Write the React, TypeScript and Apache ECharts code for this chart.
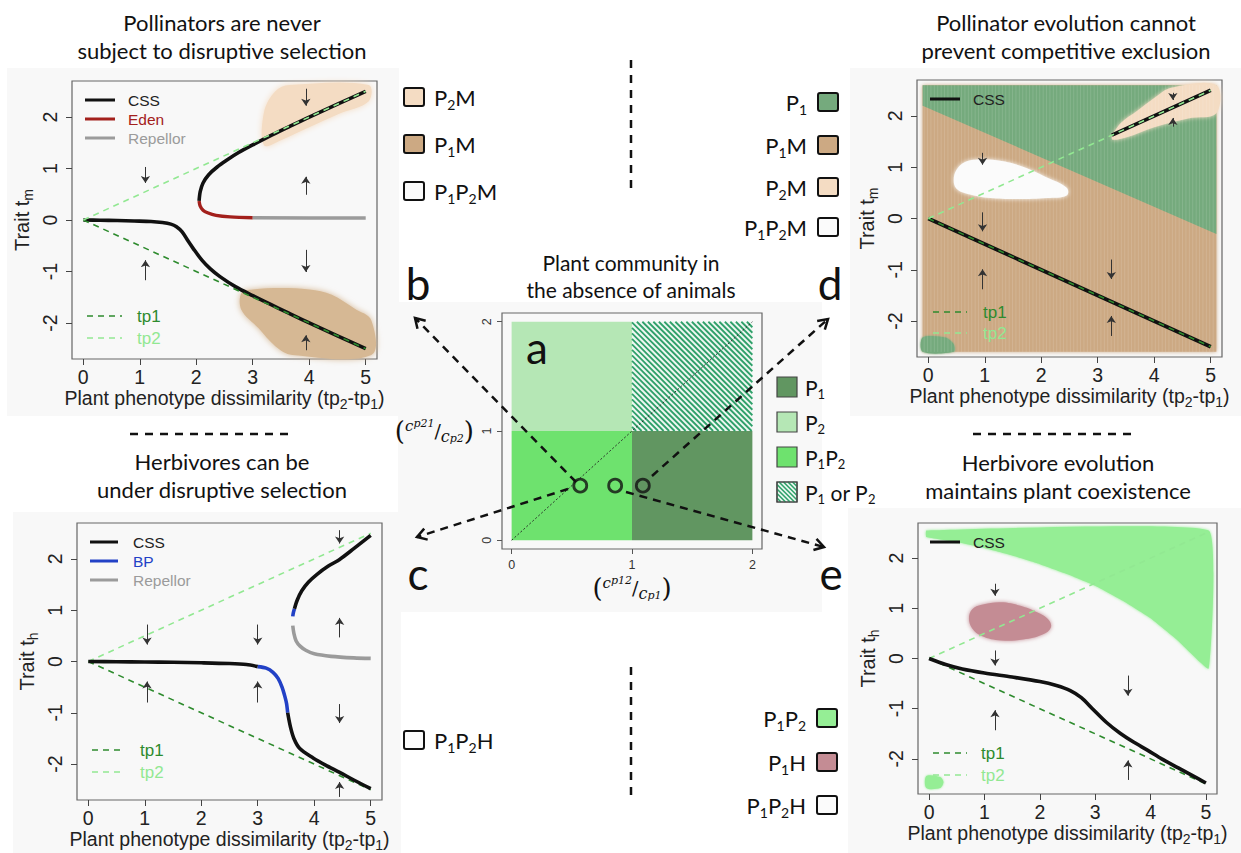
import React, { useEffect, useRef } from "react";
import * as echarts from "echarts";

// ---------------- ticks ----------------
const traitXTicks = [0, 1, 2, 3, 4, 5];
const traitYTicks = [-2, -1, 0, 1, 2];
const commTicks = [0, 1, 2];

// ---------------- reference lines ----------------
const tp1Line = [[0, 0], [5, -2.5]];
const tp2Line = [[0, 0], [5, 2.5]];

// ---------------- panel b (pollinators) ----------------
const bCssLower = [[0, 0], [0.3, -0.005], [0.6, -0.01], [0.9, -0.02], [1.2, -0.03], [1.4, -0.05], [1.55, -0.08], [1.65, -0.13], [1.75, -0.23], [1.85, -0.4], [1.95, -0.56], [2.1, -0.78], [2.25, -0.95], [2.42, -1.1], [2.7, -1.3], [3.0, -1.47], [3.3, -1.63], [3.6, -1.79], [4, -2], [4.5, -2.25], [5, -2.5]];
const bCssUpper = [[2.05, 0.37], [2.07, 0.55], [2.12, 0.72], [2.22, 0.88], [2.37, 1.03], [2.55, 1.17], [2.75, 1.31], [3.0, 1.46], [3.3, 1.63], [3.6, 1.79], [4, 2], [4.5, 2.25], [5, 2.5]];
const bEden = [[2.05, 0.37], [2.07, 0.27], [2.12, 0.19], [2.2, 0.14], [2.35, 0.09], [2.6, 0.06], [3.0, 0.045]];
const bRepellor = [[3.0, 0.045], [4, 0.04], [5, 0.04]];
const bP2MRegion = [[3.2, 1.45], [3.2, 2.1], [3.4, 2.5], [3.65, 2.62], [5.05, 2.62], [5.05, 2.3], [4.5, 2.05], [4.0, 1.8], [3.5, 1.55]];
const bP1MRegion = [[2.8, -1.42], [3.0, -1.35], [3.5, -1.32], [4.0, -1.35], [4.4, -1.45], [4.8, -1.72], [5.1, -1.95], [5.1, -2.62], [3.7, -2.62], [3.4, -2.45], [3.1, -2.1], [2.8, -1.75]];
const bArrows = [[1.1, 1.03, 0.72], [1.1, -1.17, -0.78], [3.94, 2.55, 2.22], [3.94, 0.49, 0.84], [3.94, -0.58, -1.01], [3.94, -2.53, -2.24]];

// ---------------- panel c (herbivores) ----------------
const cCssLowerA = [[0, 0], [0.5, -0.005], [1, -0.01], [1.5, -0.015], [2, -0.025], [2.5, -0.04], [2.8, -0.06], [3.0, -0.1]];
const cBpLower = [[3.0, -0.1], [3.15, -0.13], [3.27, -0.21], [3.36, -0.33], [3.43, -0.5], [3.48, -0.68], [3.51, -0.82], [3.53, -1.0]];
const cCssLowerB = [[3.53, -1.0], [3.58, -1.28], [3.64, -1.5], [3.74, -1.69], [3.98, -1.88], [4.2, -2.02], [4.45, -2.16], [4.7, -2.31], [5, -2.48]];
const cBpUpper = [[3.62, 0.88], [3.63, 0.95], [3.65, 1.03]];
const cCssUpper = [[3.65, 1.03], [3.7, 1.2], [3.78, 1.38], [3.9, 1.55], [4.05, 1.7], [4.25, 1.86], [4.45, 1.99], [4.7, 2.2], [5, 2.46]];
const cRepellor = [[3.62, 0.7], [3.64, 0.55], [3.68, 0.4], [3.75, 0.3], [3.85, 0.22], [4.0, 0.15], [4.3, 0.1], [4.7, 0.07], [5, 0.06]];
const cArrows = [[1.04, 0.72, 0.33], [1.04, -0.8, -0.39], [3.0, 0.72, 0.33], [3.0, -0.8, -0.39], [4.45, 2.56, 2.3], [4.45, 0.47, 0.85], [4.45, -0.83, -1.2], [4.45, -2.64, -2.35]];

// ---------------- panel d (pollinator evolution) ----------------
const dP1MArea = [[-0.1, -2.6], [5.1, -2.6], [5.1, 2.6], [-0.1, 2.6]];
const dP1Upper = [[-0.1, 2.6], [5.1, 2.6], [5.1, -0.3], [-0.1, 2.2]];
const dP1Corner = [[-0.1, -2.32], [0.3, -2.32], [0.45, -2.45], [0.45, -2.6], [-0.1, -2.6]];
const dP2MRegion = [[3.25, 1.55], [3.4, 1.85], [3.7, 2.1], [4.0, 2.35], [4.3, 2.55], [5.1, 2.6], [5.1, 2.05], [4.6, 1.95], [4.0, 1.78], [3.5, 1.58]];
const dP1P2MRegion = [[0.45, 0.75], [0.5, 0.95], [0.65, 1.1], [0.9, 1.15], [1.3, 1.12], [1.7, 1.0], [2.1, 0.8], [2.45, 0.6], [2.45, 0.45], [2.1, 0.4], [1.6, 0.38], [1.1, 0.4], [0.7, 0.48], [0.5, 0.58]];
const dCssLower = [[0, 0], [5, -2.5]];
const dCssUpper = [[3.25, 1.625], [5, 2.5]];
const dArrows = [[0.96, 1.28, 1.05], [0.96, 0.12, -0.25], [0.96, -1.38, -0.99], [3.24, -0.8, -1.18], [3.24, -2.29, -1.9], [4.33, 2.45, 2.31], [4.33, 1.79, 1.96]];

// ---------------- panel e (herbivore evolution) ----------------
const eP1P2Region = [[-0.05, 2.55], [5.05, 2.55], [5.05, -0.2], [4.5, 0.35], [4, 0.8], [3.5, 1.15], [3, 1.45], [2.5, 1.68], [2, 1.88], [1.5, 2.05], [1, 2.2], [0.5, 2.32], [-0.05, 2.42]];
const eP1P2Corner = [[-0.05, -2.34], [0.2, -2.36], [0.26, -2.46], [0.2, -2.58], [-0.05, -2.58]];
const eP1HRegion = [[0.72, 0.8], [0.78, 0.98], [0.95, 1.07], [1.3, 1.12], [1.65, 1.05], [1.95, 0.92], [2.15, 0.78], [2.2, 0.62], [2.05, 0.48], [1.7, 0.38], [1.3, 0.36], [0.95, 0.45], [0.78, 0.6]];
const eCss = [[0, 0], [0.3, -0.12], [0.6, -0.21], [1.0, -0.29], [1.5, -0.37], [2.0, -0.46], [2.3, -0.54], [2.55, -0.64], [2.75, -0.78], [2.95, -1.0], [3.2, -1.27], [3.45, -1.49], [3.7, -1.67], [3.95, -1.83], [4.2, -2.0], [4.5, -2.18], [4.75, -2.33], [5, -2.48]];
const eArrows = [[1.19, 1.49, 1.25], [1.19, 0.16, -0.14], [1.19, -1.43, -1.03], [3.59, -0.34, -0.74], [3.59, -2.42, -2.03]];

// ---------------- panel a (plant community) ----------------
const aQuadrants = [[0, 0, 1, 1], [0, 1, 1, 2], [1, 0, 2, 1]]; // P1P2, P2, P1
const aHatched = [[1, 1, 2, 2]]; // P1 or P2
const aDiagonal = [[0, 0], [2, 2]];
const aPoints = [[0.57, 0.5], [0.86, 0.5], [1.09, 0.5]];

// ---------------- styles ----------------
const FT = "Lato, 'Open Sans', sans-serif";
const FR = "'Liberation Sans', Arial, sans-serif";
const FS = "'DejaVu Serif', 'Liberation Serif', serif";
const COL = {
  css: "#111111", eden: "#a3201c", rep: "#9b9b9b", bp: "#2241c6",
  tp1: "#2e8b2e", tp2: "#92e892",
  p2m: "#f4dcc3", p1mBlob: "#d6b894", p1m: "#cca983", p1: "#75aa7d", white: "#fbfbfb",
  p1p2e: "#95ee95", p1h: "#c48c94",
  aP1P2: "#6ee26e", aP2: "#b5e7b5", aP1: "#619661", hatch: "#2fa06a", hatchBg: "#eef7f1",
};
const aQuadColors = [COL.aP1P2, COL.aP2, COL.aP1];

const grids = [
  { left: 72, top: 81, width: 305, height: 278 },   // b
  { left: 77, top: 523, width: 305, height: 278 },  // c
  { left: 917, top: 80, width: 305, height: 277 },  // d
  { left: 918, top: 523, width: 299, height: 271 }, // e
  { left: 502, top: 313, width: 260, height: 236 }, // a
];

// subscript token: bottom-aligned with a small box height so it drops below the baseline
const subRich = (size: number, fam: string, color = "#222", h = 6) => ({
  s: { fontSize: size, fontFamily: fam, color, verticalAlign: "bottom", height: h },
});

function hatchSegments(x0: number, y0: number, x1: number, y1: number, step: number) {
  const segs: number[][] = [];
  for (let c = y0 - x1; c <= y1 - x0; c += step) {
    const xa = Math.max(x0, y0 - c);
    const xb = Math.min(x1, y1 - c);
    if (xb > xa) segs.push([xa, xa + c, xb, xb + c]);
  }
  return segs;
}

function line(name: string, gi: number, data: number[][], color: string, width: number, z: number, dash: any = "solid", smooth: number | boolean = 0.3) {
  return {
    type: "line", name, xAxisIndex: gi, yAxisIndex: gi, data, symbol: "none", showSymbol: false, smooth, z, silent: true,
    lineStyle: { color, width, type: dash, cap: "butt", join: "round" },
  };
}

function poly(gi: number, pts: number[][], fill: string, z: number, smooth = 0, blur = 0) {
  return {
    type: "custom", xAxisIndex: gi, yAxisIndex: gi, data: pts, z, silent: true,
    renderItem: (params: any, api: any) => {
      if (params.dataIndex !== 0) return null;
      return {
        type: "polygon",
        shape: { points: pts.map((p) => api.coord(p)), smooth },
        style: { fill, shadowBlur: blur, shadowColor: blur ? fill : "transparent" },
      };
    },
  };
}

// faint vertical striping like the raster dots of the original model output
function stripes(gi: number, area: number[][], z: number) {
  return {
    type: "custom", xAxisIndex: gi, yAxisIndex: gi, data: area, z, silent: true,
    renderItem: (params: any, api: any) => {
      if (params.dataIndex !== 0) return null;
      const tl = api.coord([area[0][0], area[2][1]]);
      const br = api.coord([area[1][0], area[0][1]]);
      const children: any[] = [];
      for (let x = tl[0] + 1.5; x < br[0]; x += 3.4) {
        children.push({ type: "line", shape: { x1: x, y1: tl[1], x2: x, y2: br[1] }, style: { stroke: "#ffffff", opacity: 0.13, lineWidth: 1 } });
      }
      return { type: "group", children };
    },
  };
}

function arrows(gi: number, arr: number[][]) {
  return {
    type: "lines", coordinateSystem: "cartesian2d", xAxisIndex: gi, yAxisIndex: gi, z: 6, silent: true,
    data: arr.map(([x, y0, y1]) => ({ coords: [[x, y0], [x, y1]] })),
    symbol: ["none", "arrow"], symbolSize: 7,
    lineStyle: { color: "#333", width: 1, opacity: 1 },
  };
}

const DASH = [6, 5];

function traitAxes(gi: number, letter: string) {
  const x = {
    type: "value", gridIndex: gi, min: -0.2, max: 5.2,
    axisLine: { show: false, onZero: false }, splitLine: { show: false },
    axisTick: { show: true, length: 6, customValues: traitXTicks, lineStyle: { color: "#444" } },
    axisLabel: { customValues: traitXTicks, fontSize: 19.5, color: "#222", margin: 8, fontFamily: FR },
    name: "Plant phenotype dissimilarity (tp{s|2}-tp{s|1})", nameLocation: "middle", nameGap: 29,
    nameTextStyle: { fontSize: 19.5, fontFamily: FR, color: "#222", lineHeight: 20, rich: subRich(14, FR, "#222", 8) },
  };
  const y = {
    type: "value", gridIndex: gi, min: -2.7, max: 2.7,
    axisLine: { show: false, onZero: false }, splitLine: { show: false },
    axisTick: { show: true, length: 6, customValues: traitYTicks, lineStyle: { color: "#444" } },
    axisLabel: { customValues: traitYTicks, fontSize: 19.5, color: "#222", margin: 12, rotate: 90, fontFamily: FR },
    name: "Trait t{s|" + letter + "}", nameLocation: "middle", nameGap: 40, nameRotate: 90,
    nameTextStyle: { fontSize: 20, fontFamily: FR, color: "#222", lineHeight: 20, rich: subRich(14, FR, "#222", 8) },
  };
  return { x, y };
}

function txt(x: number, y: number, text: string, size: number, opts: any = {}) {
  return {
    type: "text", x, y, z: 50, silent: true,
    style: {
      text, fontSize: size, fontFamily: opts.family || FT, fill: opts.color || "#111",
      textAlign: opts.align || "left", textVerticalAlign: "middle", rich: opts.rich,
      lineHeight: opts.lh, fontStyle: opts.style,
    },
  };
}

function dashedArrow(x1: number, y1: number, x2: number, y2: number) {
  const ang = Math.atan2(y2 - y1, x2 - x1);
  const L = 11, sp = 0.55;
  const p1 = [x2 - L * Math.cos(ang - sp), y2 - L * Math.sin(ang - sp)];
  const p2 = [x2 - L * Math.cos(ang + sp), y2 - L * Math.sin(ang + sp)];
  return [
    { type: "line", z: 50, silent: true, shape: { x1, y1, x2, y2 }, style: { stroke: "#111", lineWidth: 2.5, lineDash: [8, 6] } },
    { type: "polyline", z: 50, silent: true, shape: { points: [p1, [x2, y2], p2] }, style: { stroke: "#111", lineWidth: 2.5, fill: null } },
  ];
}

function box(x: number, y: number, fill: string, w = 20, h = 18) {
  return { type: "rect", z: 50, silent: true, shape: { x, y, width: w, height: h, r: 2 }, style: { fill, stroke: "#111", lineWidth: 2 } };
}

function lineKey(x1: number, x2: number, y: number, color: string, dashed: boolean, w: number) {
  return { type: "line", z: 50, silent: true, shape: { x1, y1: y, x2, y2: y }, style: { stroke: color, lineWidth: w, lineDash: dashed ? DASH : null } };
}

const fracRich = {
  par: { fontSize: 26, fontFamily: FS, color: "#111" },
  n: { fontSize: 15, fontFamily: FS, fontStyle: "italic", verticalAlign: "top", color: "#111" },
  ns: { fontSize: 11, fontFamily: FS, fontStyle: "italic", verticalAlign: "top", lineHeight: 16, color: "#111" },
  sl: { fontSize: 19, fontFamily: FS, color: "#111" },
  d: { fontSize: 16, fontFamily: FS, fontStyle: "italic", verticalAlign: "bottom", color: "#111" },
  ds: { fontSize: 11, fontFamily: FS, fontStyle: "italic", verticalAlign: "bottom", lineHeight: 9, color: "#111" },
};

export default function App() {
  const ref = useRef<HTMLDivElement>(null);
  useEffect(() => {
    if (!ref.current) return;
    const chart = echarts.init(ref.current, null, { renderer: "svg", width: 1241, height: 853 });

    const axB = traitAxes(0, "m");
    const axC = traitAxes(1, "h");
    const axD = traitAxes(2, "m");
    const axE = traitAxes(3, "h");
    const axA = {
      x: {
        type: "value", gridIndex: 4, min: -0.08, max: 2.08,
        axisLine: { show: false, onZero: false }, splitLine: { show: false },
        axisTick: { show: true, length: 5, customValues: commTicks, lineStyle: { color: "#555" } },
        axisLabel: { customValues: commTicks, fontSize: 12.5, color: "#333", margin: 9, fontFamily: FR },
        name: "{par|(}{n|c}{ns|p12}{sl|/}{d|c}{ds|p1}{par|)}", nameLocation: "middle", nameGap: 26,
        nameTextStyle: { fontSize: 16, fontFamily: FS, color: "#111", rich: fracRich },
      },
      y: {
        type: "value", gridIndex: 4, min: -0.08, max: 2.08,
        axisLine: { show: false, onZero: false }, splitLine: { show: false },
        axisTick: { show: true, length: 5, customValues: commTicks, lineStyle: { color: "#555" } },
        axisLabel: { customValues: commTicks, fontSize: 12.5, color: "#333", margin: 9, rotate: 90, fontFamily: FR },
        name: "{par|(}{n|c}{ns|p21}{sl|/}{d|c}{ds|p2}{par|)}", nameLocation: "middle", nameGap: 28, nameRotate: 0,
        nameTextStyle: { fontSize: 16, fontFamily: FS, color: "#111", align: "right", rich: fracRich },
      },
    };

    const series: any[] = [
      // ---- b ----
      poly(0, bP2MRegion, COL.p2m, 1, 0.35, 6),
      poly(0, bP1MRegion, COL.p1mBlob, 1, 0.35, 6),
      line("tp1", 0, tp1Line, COL.tp1, 1.6, 4, DASH, false),
      line("tp2", 0, tp2Line, COL.tp2, 1.6, 4, DASH, false),
      line("CSS", 0, bCssLower, COL.css, 3.6, 3),
      line("CSS", 0, bCssUpper, COL.css, 3.6, 3),
      line("Eden", 0, bEden, COL.eden, 3.4, 3),
      line("Repellor", 0, bRepellor, COL.rep, 3.4, 3, "solid", false),
      arrows(0, bArrows),
      // ---- c ----
      line("tp1", 1, tp1Line, COL.tp1, 1.6, 2, DASH, false),
      line("tp2", 1, tp2Line, COL.tp2, 1.6, 2, DASH, false),
      line("CSS", 1, cCssLowerA, COL.css, 3.6, 3),
      line("BP", 1, cBpLower, COL.bp, 3.6, 3),
      line("CSS", 1, cCssLowerB, COL.css, 3.6, 3),
      line("BP", 1, cBpUpper, COL.bp, 3.6, 3),
      line("CSS", 1, cCssUpper, COL.css, 3.6, 3),
      line("Repellor", 1, cRepellor, COL.rep, 3.6, 3),
      arrows(1, cArrows),
      // ---- d ----
      poly(2, dP1MArea, COL.p1m, 1, 0, 4),
      poly(2, dP1Upper, COL.p1, 1, 0, 0),
      poly(2, dP1Corner, COL.p1, 1, 0.3, 2),
      poly(2, dP2MRegion, COL.p2m, 1, 0.35, 4),
      poly(2, dP1P2MRegion, COL.white, 1, 0.4, 4),
      stripes(2, dP1MArea, 2),
      line("CSS", 2, dCssLower, COL.css, 3.8, 3, "solid", false),
      line("CSS", 2, dCssUpper, COL.css, 3.8, 3, "solid", false),
      line("tp1", 2, tp1Line, COL.tp1, 1.6, 4, DASH, false),
      line("tp2", 2, tp2Line, COL.tp2, 1.6, 4, DASH, false),
      arrows(2, dArrows),
      // ---- e ----
      poly(3, eP1P2Region, COL.p1p2e, 1, 0.1, 3),
      poly(3, eP1P2Corner, COL.p1p2e, 1, 0.3, 2),
      poly(3, eP1HRegion, COL.p1h, 1, 0.4, 4),
      line("tp1", 3, tp1Line, COL.tp1, 1.6, 2, DASH, false),
      line("tp2", 3, tp2Line, COL.tp2, 1.6, 2, DASH, false),
      line("CSS", 3, eCss, COL.css, 3.6, 3),
      arrows(3, eArrows),
      // ---- a ----
      {
        type: "custom", xAxisIndex: 4, yAxisIndex: 4, data: aQuadrants, z: 1, silent: true,
        encode: { x: [0, 2], y: [1, 3] },
        renderItem: (params: any, api: any) => {
          const tl = api.coord([api.value(0), api.value(3)]);
          const br = api.coord([api.value(2), api.value(1)]);
          return { type: "rect", shape: { x: tl[0], y: tl[1], width: br[0] - tl[0], height: br[1] - tl[1] }, style: { fill: aQuadColors[params.dataIndex] } };
        },
      },
      {
        type: "custom", xAxisIndex: 4, yAxisIndex: 4, data: aHatched, z: 1, silent: true,
        encode: { x: [0, 2], y: [1, 3] },
        renderItem: (params: any, api: any) => {
          const tl = api.coord([api.value(0), api.value(3)]);
          const br = api.coord([api.value(2), api.value(1)]);
          const children: any[] = [{ type: "rect", shape: { x: tl[0], y: tl[1], width: br[0] - tl[0], height: br[1] - tl[1] }, style: { fill: COL.hatchBg } }];
          hatchSegments(tl[0], tl[1], br[0], br[1], 5.5).forEach((s) => {
            children.push({ type: "line", shape: { x1: s[0], y1: s[1], x2: s[2], y2: s[3] }, style: { stroke: COL.hatch, lineWidth: 1.8 } });
          });
          return { type: "group", children };
        },
      },
      line("diag", 4, aDiagonal, "#222", 0.9, 3, [2, 2], false),
      {
        type: "scatter", xAxisIndex: 4, yAxisIndex: 4, data: aPoints, z: 6, silent: true, symbol: "circle", symbolSize: 13,
        itemStyle: { color: "rgba(0,0,0,0)", borderColor: "#111", borderWidth: 2.8 },
      },
    ];

    // ---------------- graphic overlays ----------------
    const g: any[] = [];
    [[7, 68, 392, 348], [13, 512, 388, 341], [850, 68, 391, 348], [848, 508, 393, 345], [398, 302, 424, 310]].forEach(([x, y, w, h]) =>
      g.push({ type: "rect", z: -5, silent: true, shape: { x, y, width: w, height: h }, style: { fill: "#f8f8f8" } })
    );
    // titles
    g.push(txt(222, 22, "Pollinators are never", 22, { align: "center" }));
    g.push(txt(222, 50, "subject to disruptive selection", 22, { align: "center" }));
    g.push(txt(222, 461, "Herbivores can be", 22, { align: "center" }));
    g.push(txt(222, 489, "under disruptive selection", 22, { align: "center" }));
    g.push(txt(1066, 22, "Pollinator evolution cannot", 22, { align: "center" }));
    g.push(txt(1066, 50, "prevent competitive exclusion", 22, { align: "center" }));
    g.push(txt(1058, 462, "Herbivore evolution", 22, { align: "center" }));
    g.push(txt(1058, 490, "maintains plant coexistence", 22, { align: "center" }));
    g.push(txt(631, 262, "Plant community in", 21, { align: "center" }));
    g.push(txt(631, 289, "the absence of animals", 21, { align: "center" }));
    // panel letters
    g.push(txt(418, 283, "b", 44, { align: "center" }));
    g.push(txt(418, 573, "c", 44, { align: "center" }));
    g.push(txt(830, 283, "d", 44, { align: "center" }));
    g.push(txt(831, 573, "e", 44, { align: "center" }));
    g.push(txt(537, 347, "a", 44, { align: "center" }));
    // separators
    g.push({ type: "line", z: 50, silent: true, shape: { x1: 130, y1: 434, x2: 293, y2: 434 }, style: { stroke: "#111", lineWidth: 2.5, lineDash: [8, 7] } });
    g.push({ type: "line", z: 50, silent: true, shape: { x1: 973, y1: 434, x2: 1137, y2: 434 }, style: { stroke: "#111", lineWidth: 2.5, lineDash: [8, 7] } });
    g.push({ type: "line", z: 50, silent: true, shape: { x1: 631, y1: 60, x2: 631, y2: 190 }, style: { stroke: "#111", lineWidth: 2.5, lineDash: [8, 7] } });
    g.push({ type: "line", z: 50, silent: true, shape: { x1: 631, y1: 667, x2: 631, y2: 797 }, style: { stroke: "#111", lineWidth: 2.5, lineDash: [8, 7] } });
    // dashed arrows from panel a
    g.push(...dashedArrow(576, 482, 415, 318));
    g.push(...dashedArrow(568, 489, 417, 537));
    g.push(...dashedArrow(652, 476, 828, 319));
    g.push(...dashedArrow(626, 492, 824, 547));

    const LO = { rich: subRich(14, FT, "#111", 8), lh: 22 };
    // legend for b
    [["P{s|2}M", COL.p2m, 97], ["P{s|1}M", COL.p1m, 144], ["P{s|1}P{s|2}M", COL.white, 191]].forEach(([t, f, y]: any) => {
      g.push(box(404, y - 9, f));
      g.push(txt(434, y, t, 22, LO));
    });
    // legend for c
    g.push(box(404, 731, COL.white));
    g.push(txt(434, 740, "P{s|1}P{s|2}H", 22, LO));
    // legend for d (right aligned)
    [["P{s|1}", COL.p1, 102], ["P{s|1}M", COL.p1m, 145], ["P{s|2}M", COL.p2m, 187], ["P{s|1}P{s|2}M", COL.white, 227]].forEach(([t, f, y]: any) => {
      g.push(box(818, y - 9, f));
      g.push(txt(807, y, t, 22, { ...LO, align: "right" }));
    });
    // legend for e
    [["P{s|1}P{s|2}", COL.p1p2e, 718], ["P{s|1}H", COL.p1h, 762], ["P{s|1}P{s|2}H", COL.white, 805]].forEach(([t, f, y]: any) => {
      g.push(box(817, y - 9, f));
      g.push(txt(806, y, t, 22, { ...LO, align: "right" }));
    });
    // legend for a
    const LA = { rich: subRich(13, FT, "#111", 8), lh: 21 };
    [["P{s|1}", COL.aP1, 387], ["P{s|2}", COL.aP2, 422], ["P{s|1}P{s|2}", COL.aP1P2, 457]].forEach(([t, f, y]: any) => {
      g.push({ type: "rect", z: 50, silent: true, shape: { x: 777, y: y - 10, width: 20, height: 20 }, style: { fill: f, stroke: "#444", lineWidth: 1.2 } });
      g.push(txt(805, y, t, 21, LA));
    });
    g.push({ type: "rect", z: 50, silent: true, shape: { x: 777, y: 482, width: 20, height: 20 }, style: { fill: COL.hatchBg, stroke: "#444", lineWidth: 1.2 } });
    hatchSegments(777, 482, 797, 502, 4.5).forEach((s) =>
      g.push({ type: "line", z: 51, silent: true, shape: { x1: s[0], y1: s[1], x2: s[2], y2: s[3] }, style: { stroke: COL.hatch, lineWidth: 1.6 } })
    );
    g.push({ type: "rect", z: 52, silent: true, shape: { x: 777, y: 482, width: 20, height: 20 }, style: { fill: null, stroke: "#444", lineWidth: 1.2 } });
    g.push(txt(805, 492, "P{s|1} or P{s|2}", 21, LA));

    // in-plot legends
    const lt = (x: number, y: number, t: string, c: string, size = 15.5) => g.push(txt(x, y, t, size, { family: FR, color: c }));
    // b
    g.push(lineKey(85, 115, 100, COL.css, false, 3)); lt(128, 100, "CSS", "#222");
    g.push(lineKey(85, 115, 119, COL.eden, false, 3)); lt(128, 119, "Eden", COL.eden);
    g.push(lineKey(85, 115, 138, COL.rep, false, 3)); lt(128, 138, "Repellor", COL.rep);
    g.push(lineKey(87, 122, 316, COL.tp1, true, 1.6)); lt(137, 316, "tp1", COL.tp1, 17);
    g.push(lineKey(87, 122, 338, COL.tp2, true, 1.6)); lt(137, 338, "tp2", COL.tp2, 17);
    // c
    g.push(lineKey(90, 118, 542, COL.css, false, 3)); lt(133, 542, "CSS", "#222");
    g.push(lineKey(90, 118, 561, COL.bp, false, 3)); lt(133, 561, "BP", COL.bp);
    g.push(lineKey(90, 118, 580, COL.rep, false, 3)); lt(133, 580, "Repellor", COL.rep);
    g.push(lineKey(92, 125, 750, COL.tp1, true, 1.6)); lt(140, 750, "tp1", COL.tp1, 17);
    g.push(lineKey(92, 125, 772, COL.tp2, true, 1.6)); lt(140, 772, "tp2", COL.tp2, 17);
    // d
    g.push(lineKey(930, 960, 99, COL.css, false, 3)); lt(973, 99, "CSS", "#222");
    g.push(lineKey(933, 967, 312, COL.tp1, true, 1.6)); lt(983, 312, "tp1", COL.tp1, 17);
    g.push(lineKey(933, 967, 333, COL.tp2, true, 1.6)); lt(983, 333, "tp2", COL.tp2, 17);
    // e
    g.push(lineKey(930, 960, 542, COL.css, false, 3)); lt(973, 542, "CSS", "#222");
    g.push(lineKey(933, 967, 753, COL.tp1, true, 1.6)); lt(981, 753, "tp1", COL.tp1, 17);
    g.push(lineKey(933, 967, 775, COL.tp2, true, 1.6)); lt(981, 775, "tp2", COL.tp2, 17);

    const option: any = {
      animation: false,
      backgroundColor: "#ffffff",
      grid: grids.map((gr) => ({ ...gr, show: true, borderColor: "#666", borderWidth: 1.2, backgroundColor: "transparent", containLabel: false })),
      xAxis: [axB.x, axC.x, axD.x, axE.x, axA.x],
      yAxis: [axB.y, axC.y, axD.y, axE.y, axA.y],
      series,
      graphic: { elements: g },
    };
    chart.setOption(option);
    return () => chart.dispose();
  }, []);
  return <div ref={ref} style={{ position: "fixed", left: 0, top: 0, width: 1241, height: 853, background: "#fff" }} />;
}
